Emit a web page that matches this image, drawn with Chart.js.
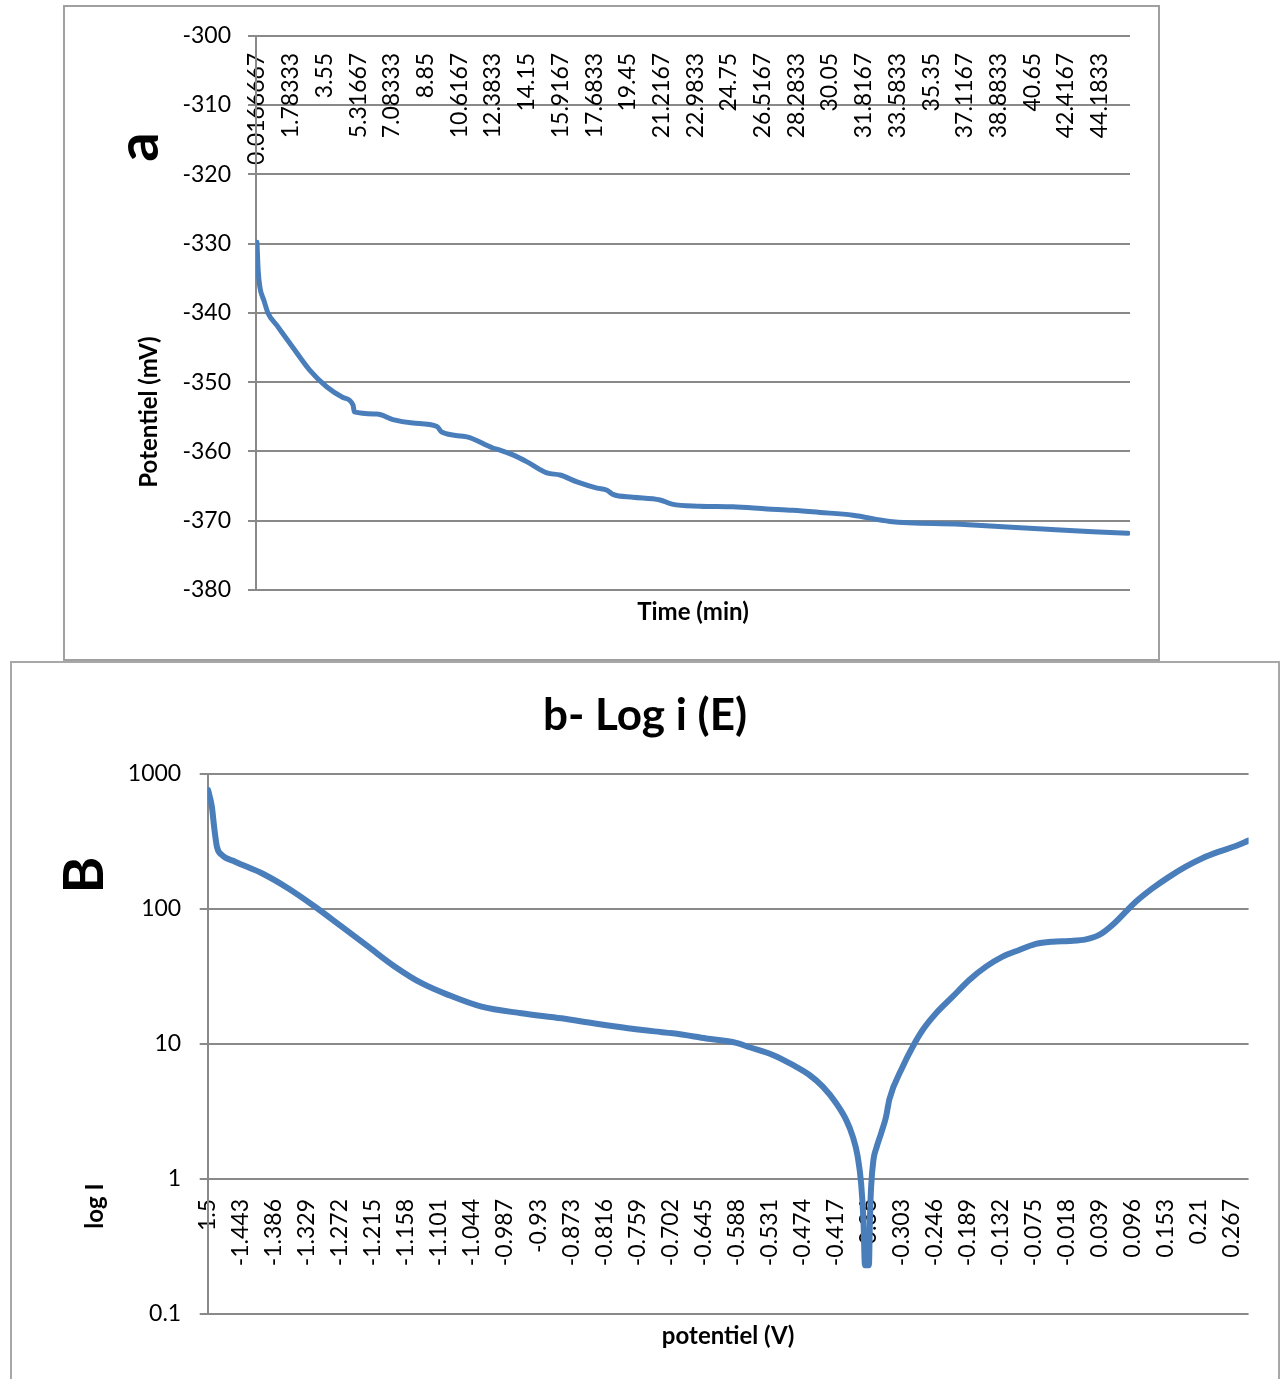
<!DOCTYPE html>
<html><head><meta charset="utf-8">
<script src="https://cdn.jsdelivr.net/npm/chart.js@4.4.0/dist/chart.umd.min.js"></script>
<style>
html,body{margin:0;padding:0;background:#fff;}
body{width:1282px;height:1379px;position:relative;overflow:hidden;font-family:Lato,sans-serif;}
.wrap{position:absolute;}
.wrap canvas{display:block;}
.frame{position:absolute;box-sizing:border-box;pointer-events:none;}
.rot{position:absolute;transform:translate(-50%,-50%) rotate(-90deg);white-space:nowrap;line-height:1;font-family:Lato,sans-serif;font-weight:700;color:#000;}
</style></head>
<body>
<div class="wrap" style="left:63px;top:5px;width:1097px;height:655px"><canvas id="ca" width="1097" height="655" style="width:1097px;height:655px"></canvas></div>
<div class="wrap" style="left:10px;top:662px;width:1270px;height:717px"><canvas id="cb" width="1270" height="717" style="width:1270px;height:717px"></canvas></div>
<div class="frame" style="left:63px;top:5px;width:1097px;height:656px;border:2px solid #a0a0a0"></div>
<div class="frame" style="left:10px;top:661px;width:1270px;height:740px;border:2px solid #a8a8a8"></div>
<div class="rot" style="left:136px;top:147px;font-size:58px">a</div>
<div class="rot" style="left:82px;top:875px;font-size:56px">B</div>
<div class="rot" style="left:148px;top:412px;font-size:24px">Potentiel (mV)</div>
<div class="rot" style="left:94px;top:1206px;font-size:24px">log I</div>
<script>
// ---------- Chart a : potential vs time ----------
const timeTickLabels = ['0.0166667','1.78333','3.55','5.31667','7.08333','8.85','10.6167','12.3833','14.15','15.9167','17.6833','19.45','21.2167','22.9833','24.75','26.5167','28.2833','30.05','31.8167','33.5833','35.35','37.1167','38.8833','40.65','42.4167','44.1833'];
const potentialTickLabelsA = ['-380','-370','-360','-350','-340','-330','-320','-310','-300'];
const timeA = [0.0167,0.08,0.17,0.38,0.59,1.06,1.90,2.79,3.68,4.52,5.05,5.12,6.30,7.14,8.19,9.45,9.70,11.02,12.38,12.75,13.43,14.17,15.21,15.90,16.79,17.84,18.36,18.67,19.72,21.14,21.77,23.23,24.96,26.74,28.10,29.53,31.25,33.19,36.86,41.21,43.83,45.67];
const potentialA = [-329.8,-333.9,-336.3,-338.2,-340.0,-341.8,-345.0,-348.3,-350.7,-352.2,-353.3,-354.3,-354.6,-355.4,-355.9,-356.4,-357.2,-357.9,-359.5,-359.8,-360.5,-361.5,-363.1,-363.4,-364.4,-365.3,-365.6,-366.2,-366.6,-367.0,-367.6,-367.9,-368.0,-368.3,-368.5,-368.8,-369.2,-370.1,-370.5,-371.2,-371.6,-371.8];

// ---------- Chart B : log i vs potential ----------
const potentialTickLabelsB = ['-1.5','-1.443','-1.386','-1.329','-1.272','-1.215','-1.158','-1.101','-1.044','-0.987','-0.93','-0.873','-0.816','-0.759','-0.702','-0.645','-0.588','-0.531','-0.474','-0.417','-0.36','-0.303','-0.246','-0.189','-0.132','-0.075','-0.018','0.039','0.096','0.153','0.21','0.267'];
const currentTickLabelsB = ['0.1','1','10','100','1000'];
const potentialB = [-1.4993,-1.4928,-1.4883,-1.4841,-1.4755,-1.4526,-1.4066,-1.3608,-1.3148,-1.2687,-1.2229,-1.1769,-1.1309,-1.085,-1.0275,-0.9586,-0.8896,-0.8322,-0.7749,-0.7289,-0.6973,-0.6398,-0.5881,-0.5651,-0.525,-0.4905,-0.4618,-0.4388,-0.4157,-0.3985,-0.3871,-0.3785,-0.3727,-0.3687,-0.3661,-0.3592,-0.3575,-0.3554,-0.3515,-0.3458,-0.3382,-0.3296,-0.3239,-0.301,-0.2837,-0.2665,-0.2434,-0.2148,-0.1861,-0.1573,-0.1286,-0.1001,-0.0711,-0.0425,-0.0137,0.0151,0.038,0.0609,0.084,0.1012,0.1298,0.1586,0.1874,0.216,0.2448,0.2736,0.2955];
const currentB = [761,572,385,289,251,224,184,142,104,74,52.6,37.4,28.2,23.1,18.9,16.9,15.5,14.2,13.1,12.4,12.0,11.0,10.2,9.46,8.29,6.99,5.89,4.83,3.64,2.74,2.06,1.46,0.93,0.5,0.23,0.23,0.5,0.877,1.38,1.73,2.18,2.9,3.9,6.79,9.55,12.7,16.9,22.4,29.8,37.4,44.4,49.7,55.1,57.3,58,59.6,64.2,76.1,95.5,113,142,173,206,238,266,293,321];

const BLUE = '#4a7ebb';
const GRID = '#898989';
Chart.defaults.font.family = 'Lato, sans-serif';
Chart.defaults.color = '#000';

const ptsA = timeA.map((t, i) => ({x: t, y: potentialA[i]}));
const ptsB = potentialB.map((v, i) => ({x: v, y: currentB[i]}));

new Chart(document.getElementById('ca'), {
  type: 'line',
  data: {datasets: [{data: ptsA, xAxisID: 'x', yAxisID: 'y', borderColor: BLUE, borderWidth: 5,
    pointRadius: 0, cubicInterpolationMode: 'monotone', fill: false, borderCapStyle: 'round', borderJoinStyle: 'round'}]},
  options: {
    responsive: false, animation: false, devicePixelRatio: 1,
    layout: {padding: {left: 0, top: 30, right: 30, bottom: 33.6}},
    plugins: {legend: {display: false}, tooltip: {enabled: false}, title: {display: false}},
    scales: {
      x: {type: 'linear', position: {y: -300}, min: -0.035, max: 45.77,
        afterBuildTicks: s => { s.ticks = timeTickLabels.map(l => ({value: Number(l)})); },
        ticks: {autoSkip: false, minRotation: 90, maxRotation: 90, padding: 17, color: '#000',
          font: {size: 23}, callback: (v, i) => timeTickLabels[i]},
        grid: {display: false, drawTicks: false}, border: {display: false}},
      x2: {type: 'linear', position: 'bottom', min: 0, max: 1,
        afterFit: s => { s.height = 36.4; },
        ticks: {display: false}, grid: {display: false, drawTicks: false}, border: {display: false},
        title: {display: true, text: 'Time (min)', color: '#000', font: {size: 24, weight: 'bold'}, padding: 0}},
      y: {type: 'linear', position: 'left', min: -380, max: -300,
        afterFit: s => { s.width = 193; },
        afterBuildTicks: s => { s.ticks = potentialTickLabelsA.map(l => ({value: Number(l)})); },
        ticks: {padding: 17, color: '#000', font: {size: 23}, callback: (v, i) => potentialTickLabelsA[i]},
        grid: {color: GRID, lineWidth: 2, tickLength: 8, drawTicks: true},
        border: {display: true, color: GRID, width: 2}}
    }
  }
});

new Chart(document.getElementById('cb'), {
  type: 'line',
  data: {datasets: [{data: ptsB, xAxisID: 'x', yAxisID: 'y', borderColor: BLUE, borderWidth: 6,
    pointRadius: 0, cubicInterpolationMode: 'monotone', fill: false, borderCapStyle: 'round', borderJoinStyle: 'round'}]},
  options: {
    responsive: false, animation: false, devicePixelRatio: 1,
    layout: {padding: {left: 15, top: 0, right: 15, bottom: 28.6}},
    plugins: {legend: {display: false}, tooltip: {enabled: false},
      title: {display: true, text: 'b- Log i (E)', color: '#000', font: {size: 44, weight: 'bold'},
        padding: {top: 27.6, bottom: 31.6}}},
    scales: {
      x: {type: 'linear', position: {y: 1}, min: -1.5, max: 0.2958,
        afterBuildTicks: s => { s.ticks = potentialTickLabelsB.map(l => ({value: Number(l)})); },
        ticks: {autoSkip: false, minRotation: 90, maxRotation: 90, padding: 20, color: '#000',
          font: {size: 23}, callback: (v, i) => potentialTickLabelsB[i]},
        grid: {display: false, drawTicks: false}, border: {display: false}},
      x2: {type: 'linear', position: 'bottom', min: 0, max: 1,
        afterFit: s => { s.height = 36.4; },
        ticks: {display: false}, grid: {display: false, drawTicks: false}, border: {display: false},
        title: {display: true, text: 'potentiel (V)', color: '#000', font: {size: 24, weight: 'bold'}, padding: 0}},
      y: {type: 'logarithmic', position: 'left', min: 0.1, max: 1000,
        afterFit: s => { s.width = 182.7; },
        afterBuildTicks: s => { s.ticks = currentTickLabelsB.map(l => ({value: Number(l)})); },
        ticks: {padding: 18.5, color: '#000', font: {size: 23}, callback: (v, i) => currentTickLabelsB[i]},
        grid: {color: GRID, lineWidth: 2, tickLength: 8, drawTicks: true},
        border: {display: true, color: GRID, width: 2}}
    }
  }
});
</script>
</body></html>
